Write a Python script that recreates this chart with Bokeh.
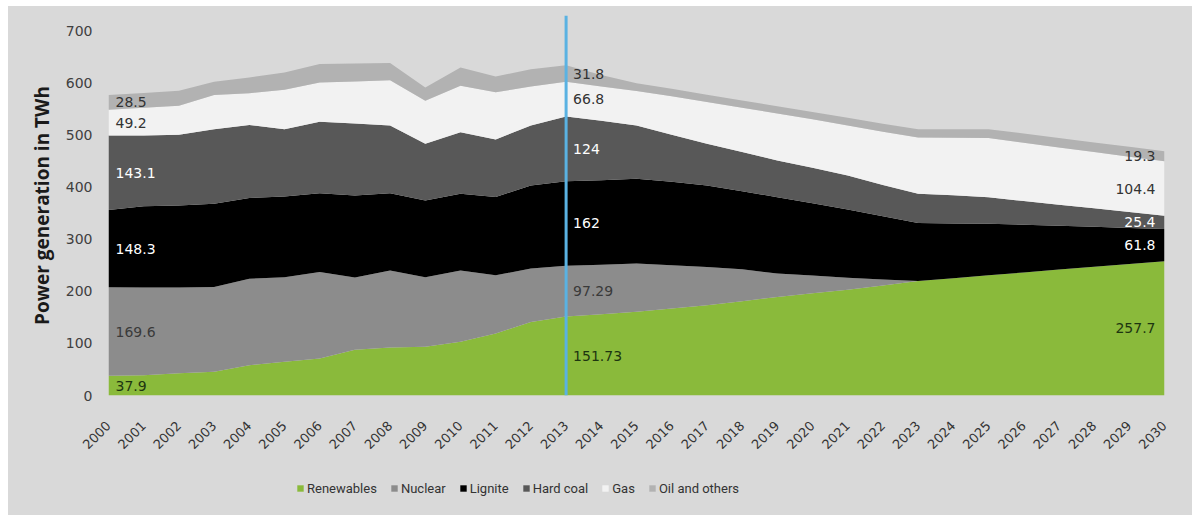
import math

from bokeh.core.properties import value
from bokeh.embed import file_html
from bokeh.layouts import column
from bokeh.models import (ColumnDataSource, FixedTicker, Legend, LegendItem,
                          Range1d, Span)
from bokeh.plotting import figure
from bokeh.resources import INLINE

# ---------------------------------------------------------------------------
# Gross power generation by source (TWh)
# ---------------------------------------------------------------------------
years = list(range(2000, 2031))

renewables = [37.9, 39.0, 42.5, 45.6, 58.0, 64.7, 71.0, 88.0, 92.0, 93.4,
              103.0, 119.0, 141.0, 151.73, 156.0, 160.5, 167.0, 173.0, 181.0,
              189.0, 196.0, 203.0, 211.0, 219.7, 225.0, 230.5, 236.0, 241.5,
              247.0, 252.3, 257.7]
nuclear = [169.6, 168.0, 164.5, 162.4, 166.0, 162.3, 166.0, 138.5, 148.0,
           133.6, 137.0, 111.6, 102.4, 97.29, 95.0, 92.5, 83.0, 73.5, 61.0,
           45.0, 34.0, 23.0, 11.5, 0.0, 0.0, 0.0, 0.0, 0.0, 0.0, 0.0, 0.0]
lignite = [148.3, 156.0, 157.6, 160.0, 155.0, 155.0, 151.0, 157.0, 148.0,
           147.0, 147.0, 150.0, 159.6, 162.0, 162.0, 162.6, 160.0, 156.5,
           150.0, 146.5, 139.0, 131.0, 121.5, 111.3, 105.0, 99.0, 91.5, 84.0,
           76.5, 69.2, 61.8]
hard_coal = [143.1, 136.0, 135.4, 143.0, 140.0, 129.0, 137.0, 138.3, 130.0,
             109.0, 118.0, 110.5, 115.0, 124.0, 114.0, 102.4, 90.0, 80.0,
             75.0, 70.5, 68.0, 65.0, 60.0, 56.0, 54.0, 51.0, 45.5, 40.5, 35.5,
             30.5, 25.4]
gas = [49.2, 53.0, 56.0, 65.4, 61.0, 75.6, 75.6, 80.5, 87.0, 82.5, 89.0,
       90.5, 75.0, 66.8, 66.0, 66.0, 74.0, 80.0, 85.0, 90.0, 93.0, 96.0,
       102.0, 108.0, 110.5, 113.5, 112.0, 110.0, 108.0, 106.0, 104.4]
oil_others = [28.5, 28.5, 28.7, 25.6, 30.0, 33.0, 35.2, 34.5, 32.7, 25.5,
              35.3, 30.5, 33.0, 31.8, 22.0, 15.0, 14.5, 14.0, 14.0, 14.0,
              14.0, 15.0, 15.5, 16.0, 16.5, 17.0, 17.5, 18.0, 18.5, 19.0, 19.3]

series_names = ["Renewables", "Nuclear", "Lignite", "Hard coal", "Gas",
                "Oil and others"]
series_values = [renewables, nuclear, lignite, hard_coal, gas, oil_others]
series_colors = ["#8aba3b", "#8c8c8c", "#000000", "#585858", "#f2f2f2",
                 "#b2b2b2"]
label_colors = ["#1d3510", "#3a3a3a", "#ffffff", "#ffffff", "#333333",
                "#333333"]

y_ticks = [0, 100, 200, 300, 400, 500, 600, 700]
forecast_start = 2013
labelled_years = [2000, 2013, 2030]

PANEL = "#d9d9d9"

# ---------------------------------------------------------------------------
keys = ["s%d" % i for i in range(len(series_names))]
data = {"year": years}
for k, vals in zip(keys, series_values):
    data[k] = vals
source = ColumnDataSource(data)

p = figure(width=1184, height=455,
           x_range=Range1d(2000, 2030), y_range=Range1d(0, 729),
           output_backend="svg", toolbar_location=None,
           min_border_left=100, min_border_right=28,
           min_border_top=9, min_border_bottom=66,
           background_fill_alpha=0, border_fill_alpha=0,
           outline_line_color=None)

p.varea_stack(keys, x="year", color=series_colors, source=source)

p.add_layout(Span(location=forecast_start, dimension="height",
                  line_color="#5ab2e2", line_width=3))

# value labels at the midpoint of each band
lx, ly, lt, lc, la, lo = [], [], [], [], [], []
for yr in labelled_years:
    i = years.index(yr)
    base = 0.0
    for vals, col in zip(series_values, label_colors):
        v = vals[i]
        if v > 0:
            lx.append(yr)
            ly.append(base + v / 2.0)
            lt.append(f"{v:g}")
            lc.append(col)
            if yr == labelled_years[-1]:
                la.append("right")
                lo.append(-9)
            else:
                la.append("left")
                lo.append(7)
        base += v
labels = ColumnDataSource(dict(x=lx, y=ly, text=lt, color=lc, align=la,
                               offset=lo))
p.text(x="x", y="y", text="text", source=labels, text_color="color",
       text_align="align", x_offset="offset", text_baseline="middle",
       text_font=value("DejaVu Sans"), text_font_size="14px")

# axes
p.xgrid.grid_line_color = None
p.ygrid.grid_line_color = None

xa = p.xaxis[0]
xa.ticker = FixedTicker(ticks=years)
xa.major_label_orientation = math.pi / 4
xa.axis_line_color = None
xa.major_tick_line_color = None
xa.minor_tick_line_color = None
xa.major_tick_out = 0
xa.major_label_standoff = 28
xa.major_label_text_font = "DejaVu Sans"
xa.major_label_text_font_size = "13px"
xa.major_label_text_color = "#333333"

ya = p.yaxis[0]
ya.ticker = FixedTicker(ticks=y_ticks)
ya.axis_line_color = None
ya.major_tick_line_color = None
ya.minor_tick_line_color = None
ya.major_tick_out = 0
ya.major_label_standoff = 16
ya.major_label_text_font = "DejaVu Sans"
ya.major_label_text_font_size = "14px"
ya.major_label_text_color = "#404040"
ya.axis_label = "Power generation in TWh"
ya.axis_label_text_font = "Open Sans"
ya.axis_label_text_font_style = "bold"
ya.axis_label_text_font_size = "19px"
ya.axis_label_text_color = "#1a1a1a"
ya.axis_label_standoff = 8

# legend strip underneath the chart
leg = figure(width=1184, height=54,
             x_range=Range1d(0, 1), y_range=Range1d(0, 1),
             x_axis_location=None, y_axis_location=None,
             output_backend="svg", toolbar_location=None,
             min_border=0, background_fill_alpha=0, border_fill_alpha=0,
             outline_line_color=None)
leg.grid.visible = False
swatches = leg.varea_stack(keys, x="year", color=series_colors, source=source)

legend = Legend(
    items=[LegendItem(label=n, renderers=[r])
           for n, r in zip(series_names, swatches)],
    orientation="horizontal", location=(188, 19),
    glyph_width=8, glyph_height=8, label_height=16, label_standoff=3,
    spacing=13, padding=0, margin=0,
    label_text_font="Roboto", label_text_font_size="13px",
    label_text_color="#333333",
    background_fill_alpha=0, border_line_alpha=0)
leg.add_layout(legend)

page = column(p, leg, spacing=0, margin=(6, 0, 0, 8),
              styles={"background-color": PANEL})
open("out.html", "w").write(file_html(page, INLINE))
